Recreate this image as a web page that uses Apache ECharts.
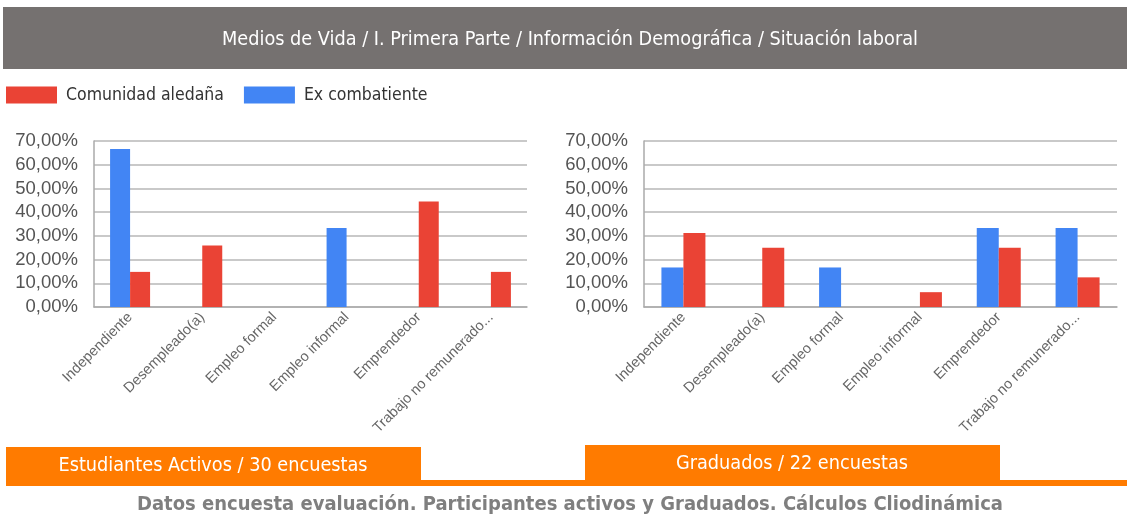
<!DOCTYPE html>
<html>
<head>
<meta charset="utf-8">
<script src="https://cdn.jsdelivr.net/npm/echarts@6/dist/echarts.min.js"></script>
<style>
html, body { margin: 0; padding: 0; background: #fff; }
#panel { width: 1127px; height: 515px; }
</style>
</head>
<body>
<div id="panel"></div>
<script>
var categories = ['Independiente', 'Desempleado(a)', 'Empleo formal', 'Empleo informal', 'Emprendedor', 'Trabajo no remunerado...'];
var yTicks = [0, 10, 20, 30, 40, 50, 60, 70];

// Estudiantes activos (30 encuestas)
var activosEx = [66.67, 0, 0, 33.33, 0, 0];
var activosCom = [14.81, 25.93, 0, 0, 44.44, 14.81];

// Graduados (22 encuestas)
var graduadosEx = [16.67, 0, 16.67, 0, 33.33, 33.33];
var graduadosCom = [31.25, 25, 0, 6.25, 25, 12.5];

var titleText = 'Medios de Vida / I. Primera Parte / Información Demográfica / Situación laboral';
var footerText = 'Datos encuesta evaluación. Participantes activos y Graduados. Cálculos Cliodinámica';

var BLUE = '#4285f4';
var RED = '#ea4335';
var ORANGE = '#ff7b00';
var FONT = '"Liberation Sans Narrow", "DejaVu Sans Condensed", sans-serif';

var myChart;

function pct(v)
{
    return v.toFixed(2).replace('.', ',') + '%';
}

function makeX(idx)
{
    return {
        type: 'category',
        gridIndex: idx,
        data: categories,
        axisTick: { show: false },
        axisLine: { lineStyle: { color: '#aaaaaa', width: 1.5 } },
        axisLabel: {
            interval: 0,
            rotate: 45,
            fontSize: 14.5,
            color: '#666666',
            fontFamily: 'Liberation Sans, sans-serif',
            margin: 8
        }
    };
}

function makeY(idx)
{
    return {
        type: 'value',
        gridIndex: idx,
        min: yTicks[0],
        max: yTicks[yTicks.length - 1],
        interval: 10,
        axisLine: { show: true, lineStyle: { color: '#aaaaaa', width: 1.5 } },
        axisTick: { show: false },
        splitLine: { lineStyle: { color: '#b7b7b7', width: 1.5 } },
        axisLabel: {
            fontSize: 18.5,
            color: '#555555',
            fontFamily: 'Liberation Sans, sans-serif',
            margin: 16,
            formatter: pct
        }
    };
}

function makeBar(name, data, idx, color, width)
{
    return {
        name: name,
        type: 'bar',
        xAxisIndex: idx,
        yAxisIndex: idx,
        data: data,
        barWidth: width,
        barGap: '0%',
        itemStyle: { color: color },
        animation: false
    };
}

window.onload = function()
{
    myChart = echarts.init(document.getElementById('panel'));
    myChart.setOption(
    {
        backgroundColor: '#fff',
        animation: false,
        legend: {
            data: ['Comunidad aledaña', 'Ex combatiente'],
            left: 1,
            top: 81,
            itemWidth: 51,
            itemHeight: 17,
            itemGap: 20,
            icon: 'rect',
            textStyle: { fontSize: 17.5, color: '#333333', fontFamily: FONT, padding: [0, 0, 0, 4] }
        },
        grid: [
            { left: 94, right: 600, top: 141, bottom: 208 },
            { left: 644, right: 10, top: 141, bottom: 208 }
        ],
        xAxis: [makeX(0), makeX(1)],
        yAxis: [makeY(0), makeY(1)],
        series: [
            makeBar('Ex combatiente', activosEx, 0, BLUE, 20),
            makeBar('Comunidad aledaña', activosCom, 0, RED, 20),
            makeBar('Ex combatiente', graduadosEx, 1, BLUE, 22),
            makeBar('Comunidad aledaña', graduadosCom, 1, RED, 22)
        ],
        graphic: [
            { type: 'rect', shape: { x: 3, y: 7, width: 1124, height: 62 }, style: { fill: '#757170' } },
            { type: 'text', x: 570, y: 40, style: { text: titleText, fill: '#fff', fontSize: 19.7, fontFamily: FONT, textAlign: 'center', textVerticalAlign: 'middle' } },
            { type: 'rect', shape: { x: 6, y: 480, width: 1121, height: 6 }, style: { fill: ORANGE } },
            { type: 'rect', shape: { x: 6, y: 447, width: 415, height: 39 }, style: { fill: ORANGE } },
            { type: 'rect', shape: { x: 585, y: 445, width: 415, height: 41 }, style: { fill: ORANGE } },
            { type: 'text', x: 213, y: 466, style: { text: 'Estudiantes Activos / 30 encuestas', fill: '#fff', fontSize: 19.7, fontFamily: FONT, textAlign: 'center', textVerticalAlign: 'middle' } },
            { type: 'text', x: 792, y: 464, style: { text: 'Graduados / 22 encuestas', fill: '#fff', fontSize: 19.7, fontFamily: FONT, textAlign: 'center', textVerticalAlign: 'middle' } },
            { type: 'text', x: 570, y: 505, style: { text: footerText, fill: '#7f7f7f', fontSize: 20, fontWeight: 'bold', fontFamily: FONT, textAlign: 'center', textVerticalAlign: 'middle' } }
        ]
    });
};
</script>
</body>
</html>
